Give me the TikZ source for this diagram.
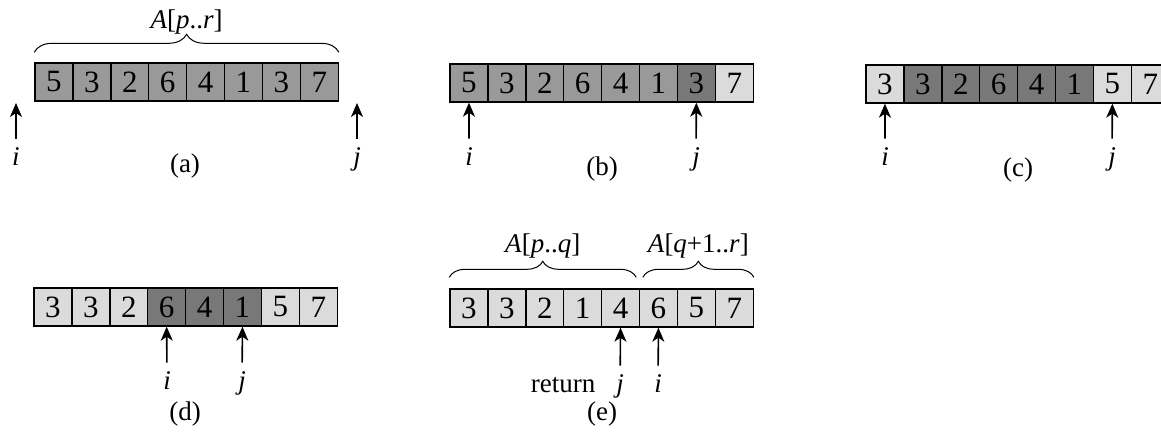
\documentclass[tikz,border=0pt]{standalone}
\usepackage{fontspec}
\setmainfont{Liberation Serif}
\usetikzlibrary{positioning}
\usetikzlibrary{arrows.meta,decorations.pathreplacing}
\definecolor{cmid}{gray}{0.60}
\definecolor{cdark}{gray}{0.47}
\definecolor{clight}{gray}{0.86}

\begin{document}
\begin{tikzpicture}[x=0.5pt,y=-0.5pt, font=\fontsize{13.5}{16}\selectfont,
  cell/.style={draw,line width=0.7pt,minimum width=18.95pt,minimum height=19pt,inner sep=0pt,font=\fontsize{15.5}{18}\selectfont},
  lbl/.style={anchor=base,inner sep=0pt},
  ptr/.style={-{Stealth[length=7pt,width=6pt,inset=2pt]},line width=0.8pt,shorten <=4.5pt},
  brc/.style={decorate,decoration={brace,amplitude=#1},line width=0.5pt}]
\clip (0,0) rectangle (1161,442);
\fill[white] (0,0) rectangle (1161,442);

% (a)
\foreach \v/\c [count=\k] in {5/cmid,3/cmid,2/cmid,6/cmid,4/cmid,1/cmid,3/cmid,7/cmid}
  \node[cell,fill=\c] (a\k) at ({35+(\k-0.5)*37.9},82) {\v};
\draw[brc=9pt] ([yshift=5pt]a1.north west) -- node[midway,above=9pt,inner sep=0pt] (la) {\textit{A}[\textit{p}..\textit{r}]} ([yshift=5pt]a8.north east);
\coordinate (ta) at (16,103);
\coordinate (tb) at (357,103);
\node[lbl] (ia) at (16,166) {\textit{i}};
\node[lbl] (ja) at (357,166) {\textit{j}};
\draw[ptr] (ia) -- (ta);
\draw[ptr] (ja) -- (tb);
\node[lbl] (capa) at (185,173) {(a)};

% (b)
\foreach \v/\c [count=\k] in {5/cmid,3/cmid,2/cmid,6/cmid,4/cmid,1/cmid,3/cdark,7/clight}
  \node[cell,fill=\c] (b\k) at ({450+(\k-0.5)*37.9},83) {\v};
\node[lbl] (ib) at (469,166) {\textit{i}};
\node[lbl] (jb) at (696,166) {\textit{j}};
\draw[ptr] (ib) -- (b1.south);
\draw[ptr] (jb) -- (b7.south);
\node[lbl] (capb) at (602,176) {(b)};

% (c)
\foreach \v/\c [count=\k] in {3/clight,3/cdark,2/cdark,6/cdark,4/cdark,1/cdark,5/clight,7/clight}
  \node[cell,fill=\c] (c\k) at ({866+(\k-0.5)*37.9},84) {\v};
\node[lbl] (ic) at (885,166) {\textit{i}};
\node[lbl] (jc) at (1112,166) {\textit{j}};
\draw[ptr] (ic) -- (c1.south);
\draw[ptr] (jc) -- (c7.south);
\node[lbl] (capc) at (1018,177) {(c)};

% (d)
\foreach \v/\c [count=\k] in {3/clight,3/clight,2/clight,6/cdark,4/cdark,1/cdark,5/clight,7/clight}
  \node[cell,fill=\c] (d\k) at ({34+(\k-0.5)*37.9},307) {\v};
\node[lbl] (id) at (167,390) {\textit{i}};
\node[lbl] (jd) at (242,390) {\textit{j}};
\draw[ptr] (id) -- (d4.south);
\draw[ptr] (jd) -- (d6.south);
\node[lbl] (capd) at (185,421) {(d)};

% (e)
\foreach \v/\c [count=\k] in {3/clight,3/clight,2/clight,1/clight,4/clight,6/clight,5/clight,7/clight}
  \node[cell,fill=\c] (e\k) at ({450+(\k-0.5)*37.9},308) {\v};
\draw[brc=8pt] ([yshift=5.5pt]e1.north west) -- node[midway,above=9.5pt,inner sep=0pt] (lpq) {\textit{A}[\textit{p}..\textit{q}]} ([xshift=-2pt,yshift=5.5pt]e5.north east);
\draw[brc=8pt] ([xshift=2pt,yshift=5.5pt]e6.north west) -- node[midway,above=9.5pt,inner sep=0pt] (lqr) {\textit{A}[\textit{q}+1..\textit{r}]} ([yshift=5.5pt]e8.north east);
\node[lbl] (je) at (620,393) {\textit{j}};
\node[lbl] (ie) at (658,393) {\textit{i}};
\node[lbl] (ret) at (563,393) {return};
\draw[ptr] (je) -- (e5.south);
\draw[ptr] (ie) -- (e6.south);
\node[lbl] (cape) at (602,421) {(e)};
\end{tikzpicture}
\end{document}
